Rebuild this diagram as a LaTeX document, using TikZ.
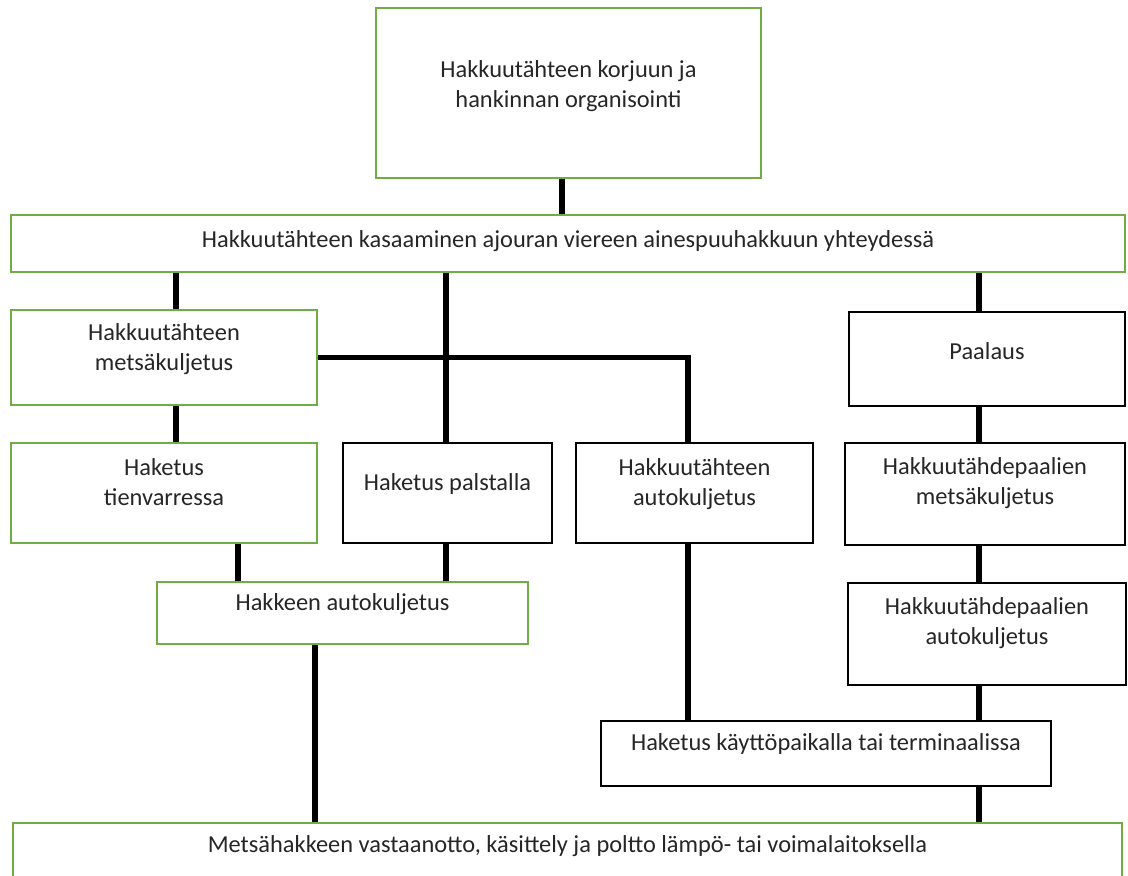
\documentclass[tikz,border=0pt]{standalone}
\usepackage{fontspec}
\setmainfont{Carlito}
\definecolor{boxgreen}{HTML}{70AD47}
\definecolor{textgray}{HTML}{262626}

\begin{document}
\begin{tikzpicture}[x=1pt, y=-1pt,
   every node/.style={font=\fontsize{24.4}{30}\selectfont, text=textgray, align=center, inner sep=0pt},
   gbox/.style={draw=boxgreen, line width=2.5pt, fill=white},
   bbox/.style={draw=black, line width=2.5pt, fill=white},
   conn/.style={draw=black, line width=5.5pt}]

\clip (0,0) rectangle (1128,876);

% boxes
\node[gbox, minimum width=385pt, minimum height=170pt] (org) at (568.5,93) {};
\node[gbox, minimum width=1114pt, minimum height=57pt] (kasaus) at (568,243.5) {};
\node[gbox, minimum width=306pt, minimum height=95pt] (metsa) at (164,357.5) {};
\node[bbox, minimum width=276pt, minimum height=94pt] (paalaus) at (987,359) {};
\node[gbox, minimum width=306pt, minimum height=100pt] (tienvarsi) at (164,493) {};
\node[bbox, minimum width=209pt, minimum height=100pt] (palsta) at (447.5,493) {};
\node[bbox, minimum width=237pt, minimum height=100pt] (autok) at (694.5,493) {};
\node[bbox, minimum width=280pt, minimum height=102pt] (pmetsa) at (985,494) {};
\node[gbox, minimum width=371pt, minimum height=62pt] (hakkeen) at (342.5,613) {};
\node[bbox, minimum width=278pt, minimum height=102pt] (pauto) at (987,634) {};
\node[bbox, minimum width=450pt, minimum height=65pt] (kaytto) at (826,753.5) {};
\node[gbox, minimum width=1109pt, minimum height=77pt] (vastaanotto) at (567.5,861.5) {};

% texts
\node (org-t) at (568.5,86) {Hakkuutähteen korjuun ja\\hankinnan organisointi};
\node (kasaus-t) at (568,241) {Hakkuutähteen kasaaminen ajouran viereen ainespuuhakkuun yhteydessä};
\node (metsa-t) at (164,349) {Hakkuutähteen\\metsäkuljetus};
\node (paalaus-t) at (987,351) {Paalaus};
\node (tienvarsi-t) at (164,482) {Haketus\\tienvarressa};
\node (palsta-t) at (447.5,484) {Haketus palstalla};
\node (autok-t) at (694.5,484) {Hakkuutähteen\\autokuljetus};
\node (pmetsa-t) at (985,483) {Hakkuutähdepaalien\\metsäkuljetus};
\node (hakkeen-t) at (342.5,604) {Hakkeen autokuljetus};
\node (pauto-t) at (987,623) {Hakkuutähdepaalien\\autokuljetus};
\node (kaytto-t) at (826,744) {Haketus käyttöpaikalla tai terminaalissa};
\node (vastaanotto-t) at (567.5,846) {Metsähakkeen vastaanotto, käsittely ja poltto lämpö- tai voimalaitoksella};

% connector columns
\coordinate (c-org) at (562,0);
\coordinate (c-metsa) at (176,0);
\coordinate (c-palsta) at (446,0);
\coordinate (c-paal) at (979,0);
\coordinate (c-autok) at (688,0);
\coordinate (c-tien) at (238,0);
\coordinate (c-hakkeen) at (315,0);

% connectors
\draw[conn] (org.south -| c-org) -- (kasaus.north -| c-org);
\draw[conn] (kasaus.south -| c-metsa) -- (metsa.north -| c-metsa);
\draw[conn] (kasaus.south -| c-palsta) -- (palsta.north -| c-palsta);
\draw[conn] (kasaus.south -| c-paal) -- (paalaus.north -| c-paal);
\draw[conn] (metsa.east) -- (metsa.east -| c-autok) -- (autok.north -| c-autok);
\draw[conn] (metsa.south -| c-metsa) -- (tienvarsi.north -| c-metsa);
\draw[conn] (paalaus.south -| c-paal) -- (pmetsa.north -| c-paal);
\draw[conn] (tienvarsi.south -| c-tien) -- (hakkeen.north -| c-tien);
\draw[conn] (palsta.south -| c-palsta) -- (hakkeen.north -| c-palsta);
\draw[conn] (pmetsa.south -| c-paal) -- (pauto.north -| c-paal);
\draw[conn] (autok.south -| c-autok) -- (kaytto.north -| c-autok);
\draw[conn] (pauto.south -| c-paal) -- (kaytto.north -| c-paal);
\draw[conn] (hakkeen.south -| c-hakkeen) -- (vastaanotto.north -| c-hakkeen);
\draw[conn] (kaytto.south -| c-paal) -- (vastaanotto.north -| c-paal);

\end{tikzpicture}
\end{document}
